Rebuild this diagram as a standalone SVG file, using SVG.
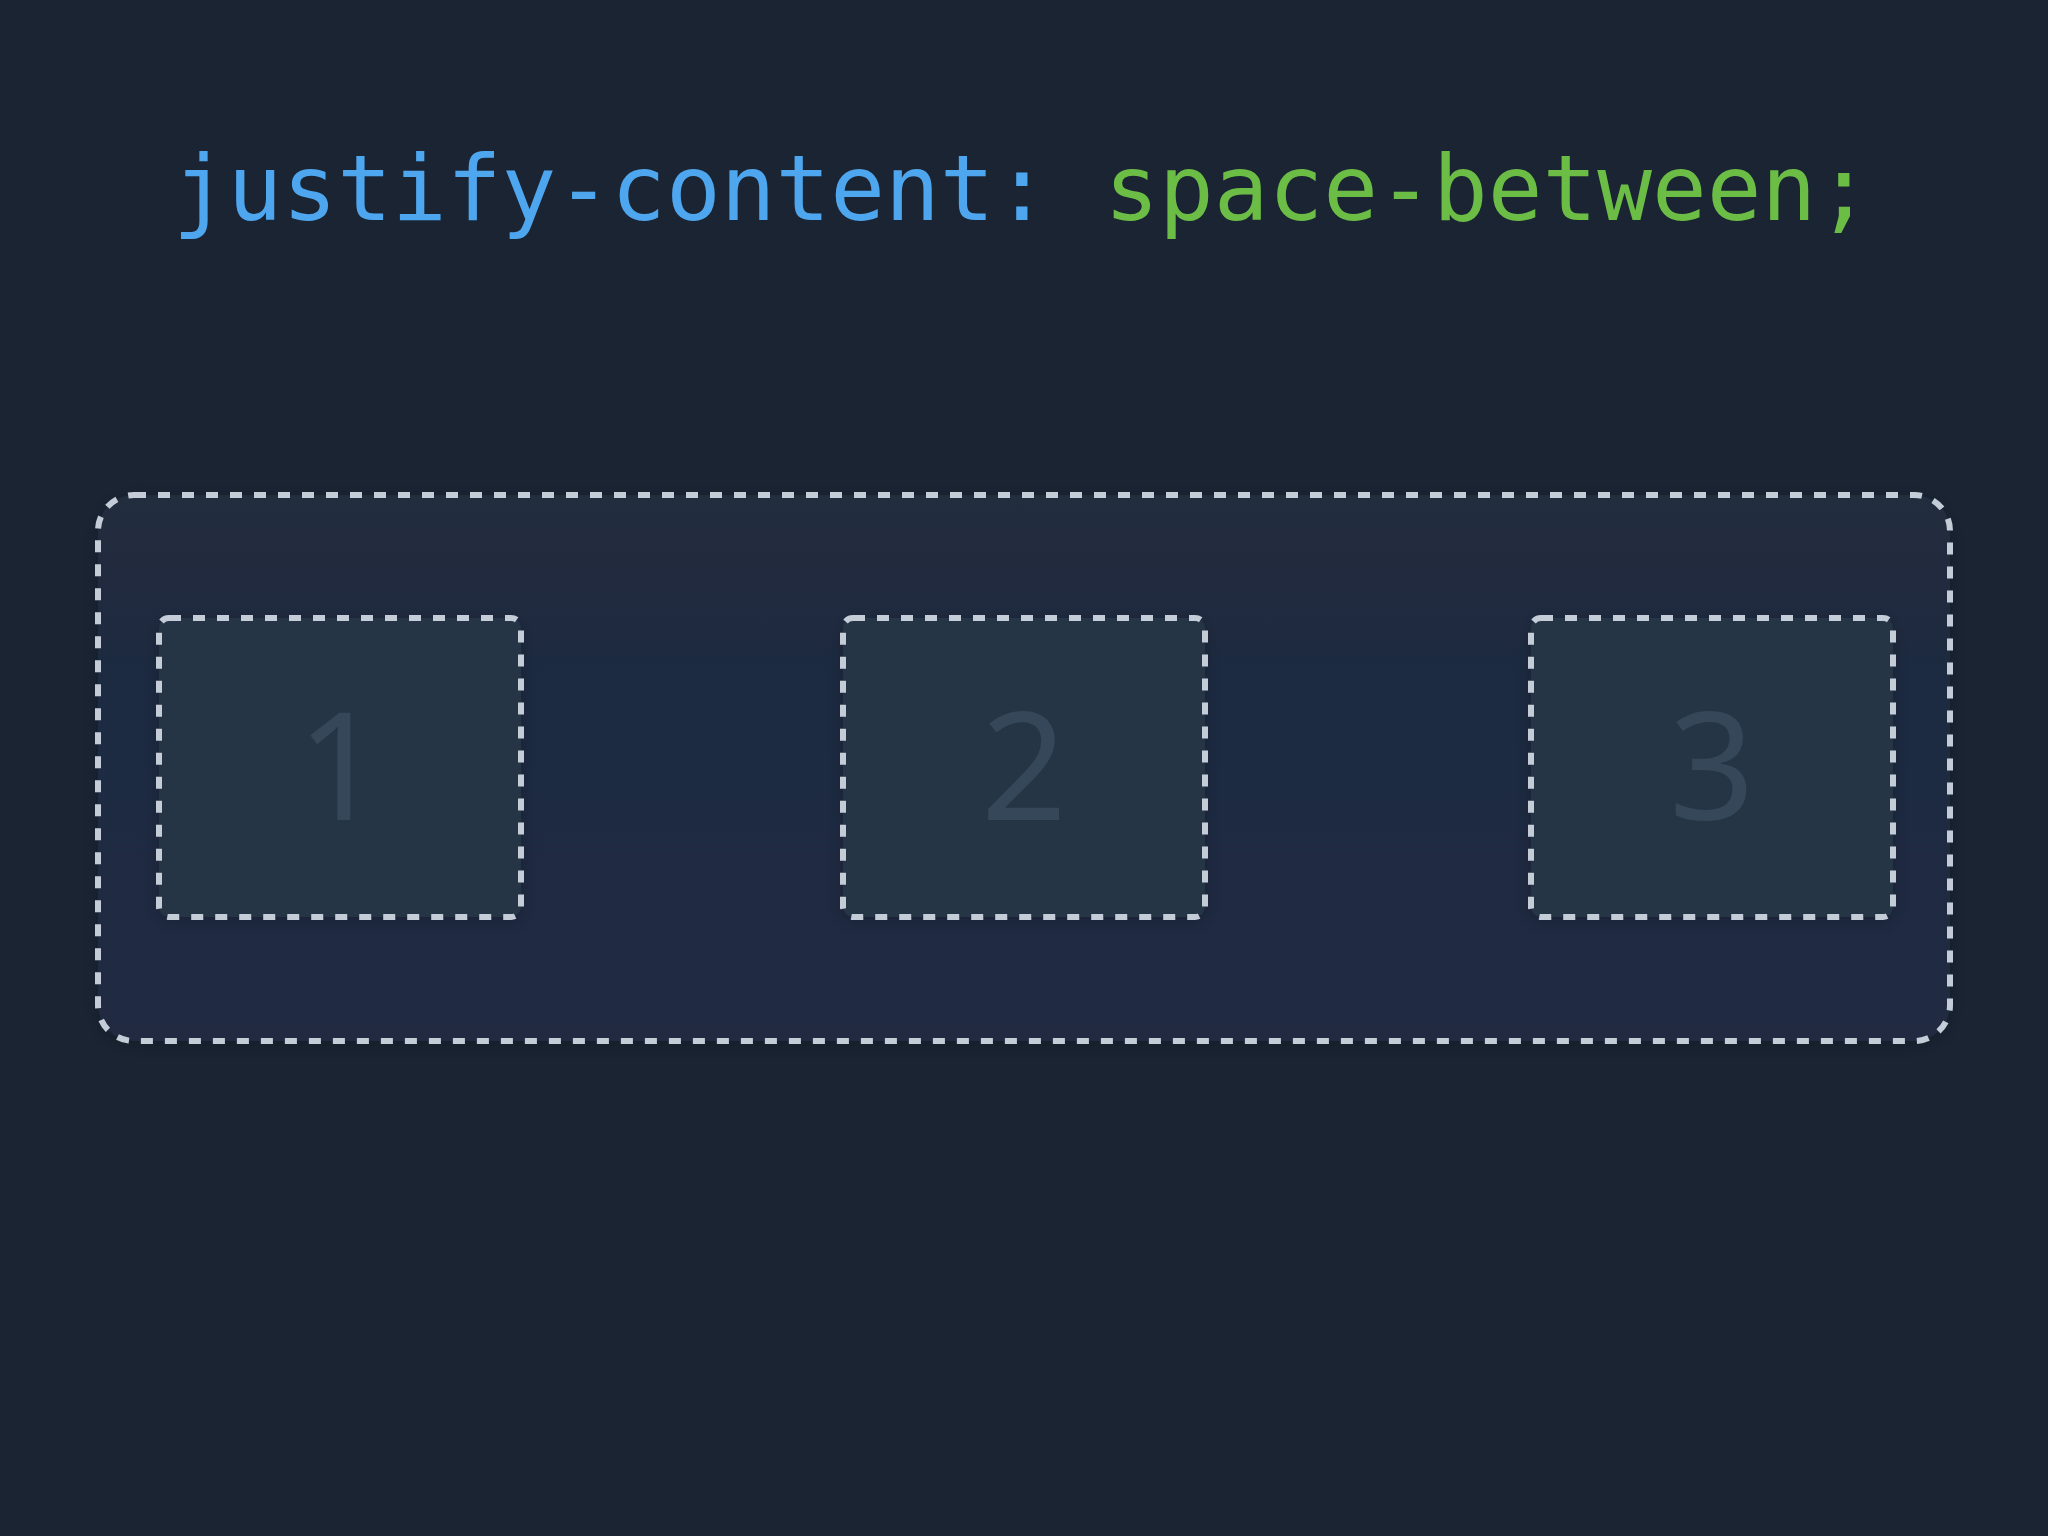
<svg xmlns="http://www.w3.org/2000/svg" width="2048" height="1536" viewBox="0 0 2048 1536">
  <style>
    .title { font-family: "DejaVu Sans Mono", "Liberation Mono", monospace; font-size: 91px; }
    .prop { fill: #4ea6ef; }
    .val { fill: #6cbd45; }
    .dash { stroke: #c3ccd7; stroke-width: 6; stroke-dasharray: 12 12; }
    .item { fill: #253445; }
    .num { font-family: "Noto Sans", "Open Sans", "DejaVu Sans", sans-serif; font-weight: 400; font-size: 150px; fill: #364759; text-anchor: middle; }
  </style>
  <defs>
    <linearGradient id="cg" x1="0" y1="0" x2="0" y2="1">
      <stop offset="0" stop-color="#212d3d"/>
      <stop offset="0.35" stop-color="#1f2a42"/>
      <stop offset="1" stop-color="#202b43"/>
    </linearGradient>
    <filter id="sh" x="-10%" y="-10%" width="120%" height="120%">
      <feDropShadow dx="0" dy="4" stdDeviation="8" flood-color="#000000" flood-opacity="0.2"/>
    </filter>
  </defs>
  <rect width="2048" height="1536" fill="#1a2433"/>
  <text class="title" x="1022" y="220" text-anchor="middle"><tspan class="prop">justify-content:</tspan><tspan class="val"> space-between;</tspan></text>
  <g id="container">
    <rect x="98" y="495" width="1852" height="546" rx="36" fill="url(#cg)" class="dash" filter="url(#sh)"/>
  </g>
  <g id="item1">
    <rect x="159" y="618" width="362" height="299" rx="10" class="item dash" filter="url(#sh)"/>
    <text class="num" x="340" y="820">1</text>
  </g>
  <g id="item2">
    <rect x="843" y="618" width="362" height="299" rx="10" class="item dash" filter="url(#sh)"/>
    <text class="num" x="1024" y="820">2</text>
  </g>
  <g id="item3">
    <rect x="1531" y="618" width="362" height="299" rx="10" class="item dash" filter="url(#sh)"/>
    <text class="num" x="1712" y="820">3</text>
  </g>
  <g id="connectors"/>
</svg>
